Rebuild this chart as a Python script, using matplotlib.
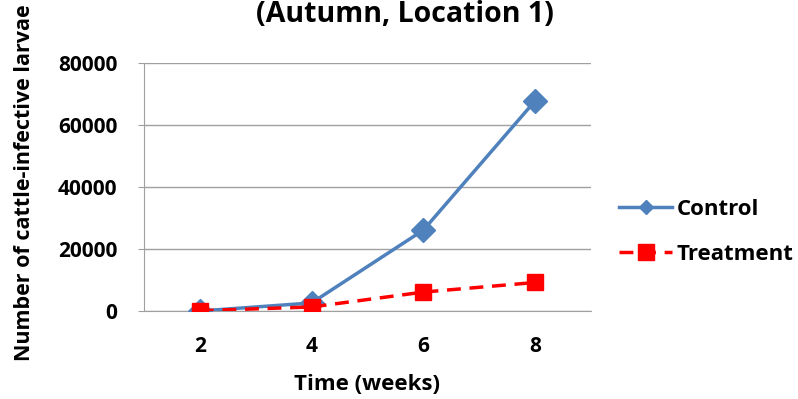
import numpy as np
import matplotlib.pyplot as plt
from matplotlib.lines import Line2D

weeks = ['2', '4', '6', '8']
control = [0, 2600, 26100, 67800]
treatment = [100, 1300, 6100, 9200]

plt.rcParams['font.family'] = ['Open Sans', 'DejaVu Sans']
plt.rcParams['font.weight'] = 'bold'

blue = '#4f81bd'
red = '#ff0000'

fig = plt.figure(figsize=(7.98, 3.99), dpi=100)
ax = fig.add_axes([144/798, 1-311/399, 447/798, 248/399])

x = np.arange(len(weeks))
ax.plot(x, control, color=blue, linewidth=2.5, marker='D', markersize=12,
        zorder=3)
ax.plot(x, treatment, color=red, linewidth=2.5, linestyle=(0, (4, 2.5)),
        marker='s', markersize=12, zorder=4)

ax.set_xlim(-0.5, 3.5)
ax.set_ylim(0, 80000)
ax.set_yticks(np.arange(0, 80001, 20000))
ax.set_xticks(x)
ax.set_xticklabels(weeks)
ax.grid(axis='y', color='#a0a0a0', linewidth=1)
ax.set_axisbelow(True)
for s in ['top', 'right']:
    ax.spines[s].set_visible(False)
for s in ['left', 'bottom']:
    ax.spines[s].set_color('#a0a0a0')
ax.tick_params(axis='y', length=4, color='#a0a0a0', labelsize=15, pad=15)
ax.tick_params(axis='x', length=0, labelsize=15, pad=18)
for t in ax.get_xticklabels() + ax.get_yticklabels():
    t.set_fontweight('bold')

fig.text(367.5/798, 1-384/399, 'Time (weeks)', ha='center', va='center',
         fontsize=16, fontweight='bold')
fig.text(25/798, 1-183/399, 'Number of cattle-infective larvae', rotation=90,
         ha='center', va='center', fontsize=15.5, fontweight='bold')
fig.text(405/798, 1-15/399, '(Autumn, Location 1)', ha='center', va='center',
         fontsize=20.5, fontweight='bold')

handles = [
    Line2D([], [], color=blue, linewidth=2.5, marker='D', markersize=7),
    Line2D([], [], color=red, linewidth=2.5, linestyle=(0, (4, 2.5)),
           marker='s', markersize=12),
]
leg = fig.legend(handles, ['Control', 'Treatment'], loc='center left',
                 bbox_to_anchor=(610/798, 1-232/399), frameon=False,
                 fontsize=16, handlelength=2.4, labelspacing=1.1,
                 handletextpad=0.2, borderaxespad=0)
for t in leg.get_texts():
    t.set_fontweight('bold')

fig.savefig('out.png', dpi=100)
